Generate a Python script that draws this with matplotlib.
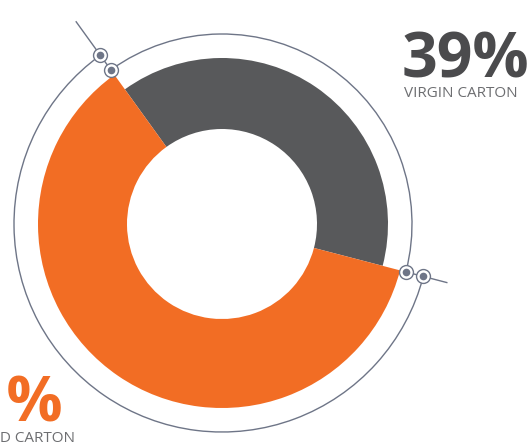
import numpy as np
import matplotlib.pyplot as plt
from matplotlib.patches import Wedge, Arc

labels = ["VIRGIN CARTON", "RECYCLED CARTON"]
shares = [39, 61]
colors = ["#58595b", "#f26d24"]

W, H = 531, 446
line_col = "#6e7587"

fig = plt.figure(figsize=(W / 100, H / 100), dpi=100)
ax = fig.add_axes([0, 0, 1, 1])
ax.set_xlim(0, W)
ax.set_ylim(0, H)
ax.axis("off")

cx, cy = 222, H - 224
r_hole = 95
r_wedge = [166, 184]     # gray slice is drawn smaller than the orange one
r_arc = [190, 208]
tick_end = [250, 233]    # outward tick at the top-left and right boundaries

# angles from data, gray slice centred at ~55.6 deg
spans = [s / sum(shares) * 360 for s in shares]
a0 = 55.6 - spans[0] / 2
bounds = [(a0, a0 + spans[0]), (a0 + spans[0], a0 + 360)]

for (t1, t2), r, ra, c in zip(bounds, r_wedge, r_arc, colors):
    ax.add_patch(Wedge((cx, cy), r, t1, t2, width=r - r_hole, facecolor=c,
                       edgecolor="none", zorder=2))
    ax.add_patch(Arc((cx, cy), 2 * ra, 2 * ra, theta1=t1, theta2=t2,
                     color=line_col, lw=1.0, zorder=3))

# boundary connectors and markers
for ang, tend in [(bounds[1][0], tick_end[0]), (bounds[0][0], tick_end[1])]:
    u = np.array([np.cos(np.radians(ang)), np.sin(np.radians(ang))])
    p_in = np.array([cx, cy]) + u * r_arc[0]
    p_out = np.array([cx, cy]) + u * r_arc[1]
    p_tip = np.array([cx, cy]) + u * tend
    ax.plot([p_in[0], p_tip[0]], [p_in[1], p_tip[1]], color=line_col, lw=1.0,
            zorder=3, solid_capstyle="butt")
    for p in (p_in, p_out):
        ax.plot(p[0], p[1], "o", ms=10, mfc="white", mec=line_col, mew=1.0, zorder=4)
        ax.plot(p[0], p[1], "o", ms=5.5, mfc=line_col, mec="none", zorder=5)

# labels
ax.text(402, H - 77, f"{shares[0]}%", fontsize=45, fontweight="bold",
        family="Open Sans", color="#4b4b4d", ha="left", va="baseline")
ax.text(404, H - 97, labels[0], fontsize=11, family="Open Sans",
        color="#6d6e71", ha="left", va="baseline")
ax.text(-64, H - 422, f"{shares[1]}%", fontsize=45, fontweight="bold",
        family="Open Sans", color=colors[1], ha="left", va="baseline")
ax.text(-62, H - 442, labels[1], fontsize=11, family="Open Sans",
        color="#6d6e71", ha="left", va="baseline")

fig.savefig("out.png", dpi=100)
